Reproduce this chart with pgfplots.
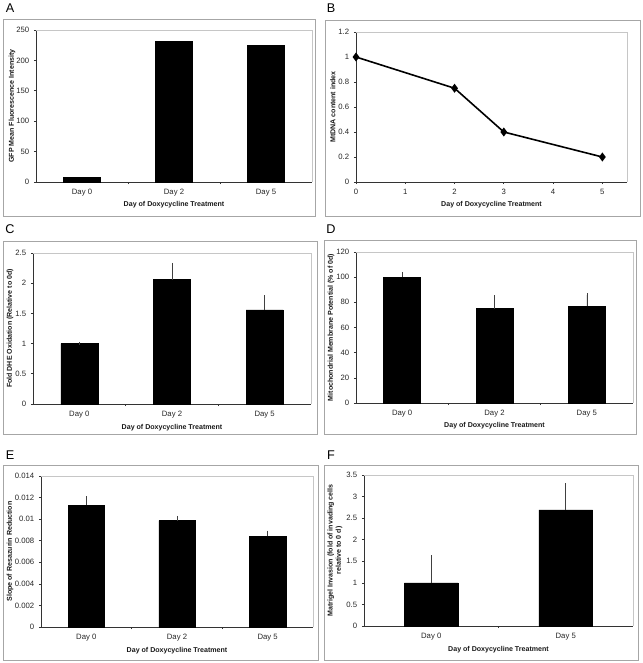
\documentclass[border=0pt]{standalone}
\usepackage{pgfplots}
\pgfplotsset{compat=1.18}
\usepackage{fontspec}
\setmainfont{Liberation Sans}

\newcommand\labfont{\bfseries\fontsize{5.3}{6.2}\selectfont}
\pgfplotsset{
  panel/.style={
    scale only axis, anchor=north west,
    axis x line*=bottom, axis y line*=left,
    axis line style={black!80, line width=0.6pt, -},
    tick align=outside, major tick length=1.6pt,
    tick style={black!80, line width=0.5pt},
    ticklabel style={font=\fontsize{5.8}{6.5}\selectfont, text=black!85},
    /pgf/number format/assume math mode=true,
    ymin=0, clip=false,
  },
  ylab/.style={every axis y label/.style={at={(axis description cs:#1,0.5)}, rotate=90, anchor=center, font=\labfont, text=black!90}},
  xlab/.style={every axis x label/.style={at={(axis description cs:0.5,#1)}, anchor=center, font=\labfont, text=black!90}},
  cat3/.style={ybar, bar width=0.4, xmin=-0.5, xmax=2.5,
    xtick={0.5,1.5}, xticklabels={,,},
    extra x ticks={0,1,2}, extra x tick labels={Day 0,Day 2,Day 5},
    extra x tick style={tick style={draw=none}, xticklabel style={yshift=-0.5pt}}},
  cat2/.style={ybar, bar width=0.4, xmin=-0.5, xmax=1.5,
    xtick={0.5}, xticklabels={,},
    extra x ticks={0,1}, extra x tick labels={Day 0,Day 5},
    extra x tick style={tick style={draw=none}, xticklabel style={yshift=-0.5pt}}},
  barstyle/.style={fill=black, draw=black,
    error bars/.cd, y dir=plus, y explicit,
    error bar style={black!75, line width=0.5pt},
    error mark options={black!75, mark size=1.2pt, line width=0.5pt}},
}
\newcommand\plotbox{\draw[gray!45, line width=0.5pt] (rel axis cs:0,1) -- (rel axis cs:1,1) -- (rel axis cs:1,0);}

\begin{document}
\begin{tikzpicture}
\begin{scope}[x=0.75pt, y=-0.75pt]
  \path[use as bounding box] (0,0) rectangle (642,663);
  \begin{scope}[gray!70, line width=0.7pt]
    \draw (3,19) rectangle (315,216);
    \draw (325,20) rectangle (640,216);
    \draw (3,241) rectangle (317,434);
    \draw (324,240) rectangle (636,434);
    \draw (3,465) rectangle (318,660);
    \draw (324,465) rectangle (638,660);
  \end{scope}
  \begin{scope}[font=\fontsize{9.5}{11}\selectfont]
    \node at (10,8) {A};
    \node at (331,8) {B};
    \node at (10,229) {C};
    \node at (331,229) {D};
    \node at (10,455) {E};
    \node at (331,455) {F};
  \end{scope}
\end{scope}

% A
\begin{axis}[panel, cat3, at={(27pt,-22.5pt)}, width=207pt, height=114pt,
  ymax=250, ytick={0,50,100,150,200,250},
  xlab=-0.15, ylab=-0.087,
  xlabel={Day of Doxycycline Treatment}, ylabel={GFP Mean Fluorescence Intensity}]
  \plotbox
  \addplot[fill=black, draw=black] coordinates {(0,7) (1,231) (2,225)};
\end{axis}

% B
\begin{axis}[panel, at={(267pt,-24pt)}, width=203.25pt, height=112.5pt,
  xmin=0, xmax=5.5, xtick={0,1,2,3,4,5}, xticklabel style={yshift=-0.5pt},
  ymax=1.2, ytick={0,0.2,0.4,0.6,0.8,1,1.2},
  xlab=-0.15, ylab=-0.085,
  xlabel={Day of Doxycycline Treatment}, ylabel={MtDNA content index}]
  \plotbox
  \addplot[black, line width=1.2pt, mark=diamond*, mark size=2.4pt] coordinates {(0,1) (2,0.75) (3,0.4) (5,0.2)};
\end{axis}

% C
\begin{axis}[panel, cat3, at={(24.75pt,-189.75pt)}, width=208.5pt, height=113.25pt,
  ymax=2.5, ytick={0,0.5,1,1.5,2,2.5},
  xlab=-0.155, ylab=-0.083,
  xlabel={Day of Doxycycline Treatment}, ylabel={Fold DHE Oxidation (Relative to 0d)}]
  \plotbox
  \addplot[barstyle] coordinates {(0,1) +- (0,0) (1,2.06) +- (0,0.25) (2,1.56) +- (0,0.21)};
\end{axis}

% D
\begin{axis}[panel, cat3, at={(267pt,-189pt)}, width=207.75pt, height=113.25pt,
  ymax=120, ytick={0,20,40,60,80,100,120},
  xlab=-0.15, ylab=-0.09,
  xlabel={Day of Doxycycline Treatment}, ylabel={Mitochondrial Membrane Potential (\% of 0d)}]
  \plotbox
  \addplot[barstyle] coordinates {(0,100) +- (0,3) (1,75) +- (0,9.5) (2,77) +- (0,8.8)};
\end{axis}

% E
\begin{axis}[panel, cat3, at={(30.75pt,-357pt)}, width=204pt, height=113.25pt,
  ymax=0.014, ytick={0,0.002,0.004,0.006,0.008,0.01,0.012,0.014},
  scaled y ticks=false,
  yticklabel style={/pgf/number format/fixed, /pgf/number format/precision=3},
  xlab=-0.155, ylab=-0.114,
  xlabel={Day of Doxycycline Treatment}, ylabel={Slope of Resazurin Reduction}]
  \plotbox
  \addplot[barstyle] coordinates {(0,0.01131) +- (0,0.00065) (1,0.00986) +- (0,0.0003) (2,0.00841) +- (0,0.00037)};
\end{axis}

% F
\begin{axis}[panel, cat2, at={(273pt,-356.25pt)}, width=201.75pt, height=113.25pt,
  ymax=3.5, ytick={0,0.5,1,1.5,2,2.5,3,3.5},
  xlab=-0.16, ylab=-0.108,
  every axis y label/.append style={align=center},
  xlabel={Day of Doxycycline Treatment}, ylabel={Matrigel Invasion (fold of invading cells\\relative to 0 d)}]
  \plotbox
  \addplot[barstyle] coordinates {(0,1.0) +- (0,0.6) (1,2.69) +- (0,0.58)};
\end{axis}
\end{tikzpicture}
\end{document}
